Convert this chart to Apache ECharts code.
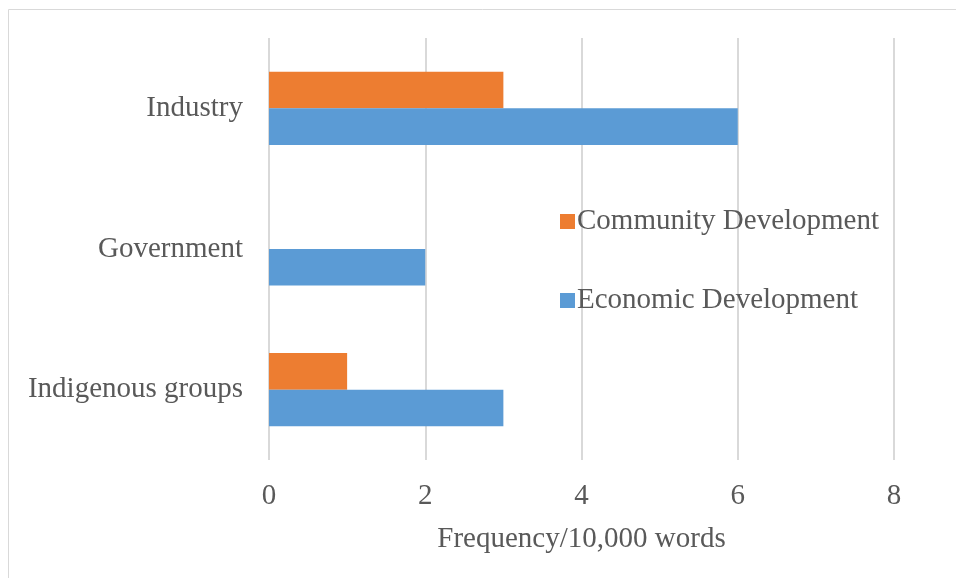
<!DOCTYPE html>
<html>
<head>
<meta charset="utf-8">
<script src="https://cdn.jsdelivr.net/npm/echarts@6/dist/echarts.min.js"></script>
<style>
  html, body { margin: 0; padding: 0; background: #fff; }
  #main { width: 956px; height: 578px; }
</style>
</head>
<body>
<div id="main"></div>
<script>
const categories = ['Indigenous groups', 'Government', 'Industry']
const communityDev = [1, 0, 3]
const economicDev = [3, 2, 6]
const xTicks = [0, 2, 4, 6, 8]

const chart = echarts.init(document.getElementById('main'))
const font = 'Liberation Serif'
const grey = '#595959'

const option = {
    animation: false,
    textStyle: { fontFamily: font, color: grey },
    graphic: [{
        type: 'rect',
        shape: { x: 8.5, y: 9.5, width: 980, height: 600 },
        style: { fill: 'none', stroke: '#d9d9d9', lineWidth: 1 },
        silent: true
    }],
    legend: {
        orient: 'vertical',
        left: 555,
        top: 202,
        itemWidth: 15,
        itemHeight: 15,
        itemGap: 50,
        icon: 'rect',
        textStyle: { fontFamily: font, fontSize: 29, color: grey, padding: [0, 0, 0, -3] },
        data: ['Community Development', 'Economic Development']
    },
    grid: { left: 269, right: 62, top: 38, bottom: 118, containLabel: false },
    xAxis: {
        type: 'value',
        min: xTicks[0],
        max: xTicks[xTicks.length - 1],
        interval: 2,
        name: 'Frequency/10,000 words',
        nameLocation: 'middle',
        nameGap: 65,
        nameTextStyle: { fontFamily: font, fontSize: 29, color: grey },
        axisLine: { show: false },
        axisTick: { show: false },
        axisLabel: { fontFamily: font, fontSize: 29, color: grey, margin: 22 },
        splitLine: { show: true, lineStyle: { color: '#d9d9d9', width: 2 } }
    },
    yAxis: {
        type: 'category',
        data: categories,
        axisLine: { show: false },
        axisTick: { show: false },
        axisLabel: { fontFamily: font, fontSize: 29, color: grey, margin: 26, padding: [4, 0, 0, 0] }
    },
    series: [
        {
            name: 'Community Development',
            type: 'bar',
            data: communityDev,
            barGap: '0%',
            barCategoryGap: '48%',
            itemStyle: { color: '#ED7D31' }
        },
        {
            name: 'Economic Development',
            type: 'bar',
            data: economicDev,
            barGap: '0%',
            barCategoryGap: '48%',
            itemStyle: { color: '#5B9BD5' }
        }
    ]
}

chart.setOption(option)
</script>
</body>
</html>
